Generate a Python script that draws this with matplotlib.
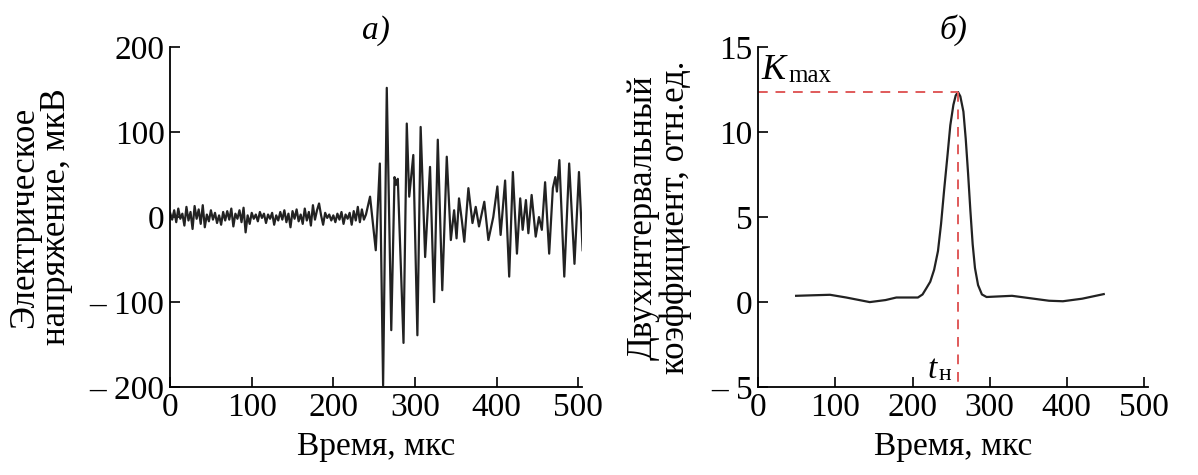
import numpy as np
import matplotlib.pyplot as plt

plt.rcParams['font.family'] = ['Liberation Serif', 'DejaVu Serif']
plt.rcParams['mathtext.fontset'] = 'stix'

# --- панель а): сигнал, мкВ ---
# шум до начала импульса (шаг 2.5 мкс)
noise_t = np.arange(0, 240, 2.5)
noise_v = [5, -3, 8, -6, 10, -2, 4, -10, 12, -4, 6, -14, 13, -2, 9, -8, 14, -12, 3, -5,
           8, -3, 5, -7, 2, -9, 6, -4, 7, -3, 10, -11, 4, -2, 8, -6, 11, -18, 2, -8,
           5, -2, 3, -5, 6, -1, 4, -7, 3, -2, 5, -9, 2, -4, 6, -3, 8, -6, 4, -12,
           7, -2, 9, -5, 3, -8, 10, -4, 6, -10, 14, -3, 8, 16, 2, -9, 5, -1, 3, -4,
           2, -6, 4, -3, 6, -8, 3, -2, 5, -9, 7, -4, 12, -6, 9, -3]
# импульс
burst_t = [240, 245, 252, 257, 261, 265.5, 271, 275, 277, 279,
           286, 290, 293, 298, 303, 307, 312.5, 318.5, 323.5, 328,
           333.5, 339, 344, 348, 351, 354, 357.5, 360.5, 365.5, 370.5,
           374.5, 378.5, 385, 390, 396, 401, 405, 410.5, 415.5, 420,
           425, 429, 432, 436, 439, 443, 448, 452, 455.5, 459.5,
           464.5, 469, 472, 474, 477, 483, 489, 495.5, 501, 505.5]
burst_v = [3, 24, -39, 63, -198, 152, -133, 47, 38, 45,
           -148, 110, 24, 73, -139, 106, -47, 59, -100, 91,
           -86, 71, -27, 8, -25, 22, -4, -29, 34, -7,
           12, -11, 18, -27, 0, 36, -21, 43, -70, 53,
           -43, 22, -15, 20, -19, 26, -23, 0, -15, 41,
           -43, 34, 47, 30, 67, -70, 63, -55, 53, -39]

# --- панель б): двухинтервальный коэффициент ---
k_t = [49, 70, 93, 114, 144.5, 165, 179, 207, 213, 218, 223, 228, 233, 237, 241, 245.5,
       249, 253, 256, 259, 262, 266, 269, 272, 275, 278, 281, 285, 290, 296,
       329, 377, 395, 420, 448]
k_v = [0.37, 0.4, 0.43, 0.27, 0.0, 0.12, 0.27, 0.27, 0.45, 0.82, 1.2, 1.9, 3.0, 4.6, 6.6, 8.7,
       10.4, 11.6, 12.15, 12.35, 12.1, 11.2, 9.6, 7.6, 5.4, 3.4, 2.0, 1.0, 0.45, 0.3,
       0.37, 0.08, 0.05, 0.2, 0.47]
k_max = 12.35
t_n = 259

sig_t = np.concatenate([noise_t, burst_t])
sig_v = np.concatenate([noise_v, burst_v])

fs = 24
fig = plt.figure(figsize=(11.98, 4.75), dpi=100)
ax1 = fig.add_axes([0.142, 0.185, 0.344, 0.716])
ax2 = fig.add_axes([0.633, 0.185, 0.325, 0.716])

line_col = '#222222'
red = '#e05a5a'

ax1.plot(sig_t, sig_v, color=line_col, lw=1.6)
ax1.set_xlim(0, 505)
ax1.set_ylim(-200, 200)
ax1.set_xticks([0, 100, 200, 300, 400, 500])
ax1.set_yticks([-200, -100, 0, 100, 200])
ax1.set_yticklabels(['\u2013 200', '\u2013 100', '0', '100', '200'])
ax1.set_xlabel('Время, мкс', fontsize=fs)
ax1.set_ylabel('Электрическое\nнапряжение, мкВ', fontsize=fs + 1, linespacing=0.95,
               labelpad=12)
ax1.set_title('а)', fontsize=fs, style='italic', pad=6)

ax2.plot(k_t, k_v, color=line_col, lw=1.6)
ax2.plot([0, t_n], [k_max, k_max], color=red, lw=1.4, ls=(0, (5, 4)))
ax2.plot([t_n, t_n], [k_max, -5], color=red, lw=1.4, ls=(0, (5, 4)))
ax2.set_xlim(0, 505)
ax2.set_ylim(-5, 15)
ax2.set_xticks([0, 100, 200, 300, 400, 500])
ax2.set_yticks([-5, 0, 5, 10, 15])
ax2.set_yticklabels(['\u2013 5', '0', '5', '10', '15'])
ax2.set_xlabel('Время, мкс', fontsize=fs)
ax2.set_ylabel('Двухинтервальный\nкоэффициент, отн.ед.', fontsize=fs + 1, linespacing=0.95,
               labelpad=14)
ax2.set_title('б)', fontsize=fs, style='italic', pad=6)
ax2.text(4, 12.65, 'K', fontsize=fs + 2, style='italic', ha='left', va='bottom')
ax2.text(39, 12.65, 'max', fontsize=18, ha='left', va='bottom')
ax2.text(220, -4.85, 't', fontsize=fs, style='italic', ha='left', va='bottom')
ax2.text(234, -4.85, 'н', fontsize=17, ha='left', va='bottom')

for ax in (ax1, ax2):
    ax.spines['top'].set_visible(False)
    ax.spines['right'].set_visible(False)
    ax.spines['left'].set_linewidth(1.3)
    ax.spines['bottom'].set_linewidth(1.3)
    ax.tick_params(direction='in', length=7, width=1.2, labelsize=fs, pad=4)
    ax.xaxis.labelpad = 6

fig.savefig('out.png', dpi=100)
